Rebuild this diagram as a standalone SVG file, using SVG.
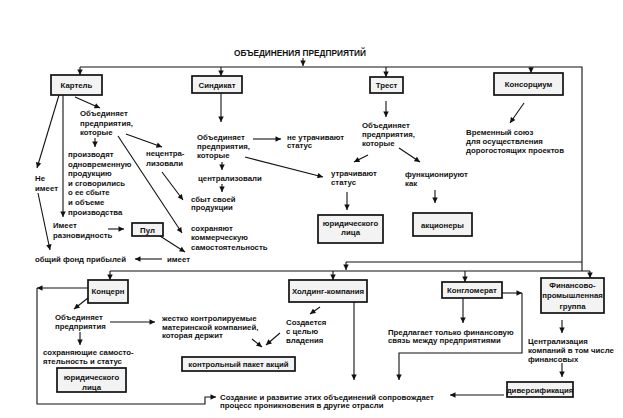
<svg xmlns="http://www.w3.org/2000/svg" width="623" height="418" viewBox="0 0 623 418">
<defs>
<marker id="a" viewBox="0 0 10 10" refX="10" refY="5" markerWidth="6.5" markerHeight="5.5" orient="auto" markerUnits="userSpaceOnUse"><path d="M0,0 L10,5 L0,10 z" fill="#111"/></marker>
</defs>
<style>
text{font-family:"Liberation Sans",Arial,sans-serif;font-size:7.8px;font-weight:bold;fill:#111}
.c{text-anchor:middle}
.t{font-size:8.3px}
rect{fill:#f3f3f3;stroke:#111;stroke-width:1.7}
#conn path{fill:none;stroke:#111;stroke-width:1.1}
#conn .ar{marker-end:url(#a)}
</style>
<rect x="0" y="0" width="623" height="418" style="fill:#fff;stroke:none"/>
<text class="c t" x="300" y="56">ОБЪЕДИНЕНИЯ ПРЕДПРИЯТИЙ</text>

<g id="conn">
<path class="ar" d="M303,58 V66"/>
<path d="M80,67 H582 V271"/>
<path class="ar" d="M80,67 V75"/>
<path class="ar" d="M221,67 V76"/>
<path class="ar" d="M386,67 V77"/>
<path class="ar" d="M531,67 V73"/>
<path class="ar" d="M59,95 L37,168"/>
<path class="ar" d="M63,95 V217"/>
<path class="ar" d="M75,97 L100,108"/>
<path class="ar" d="M95,138 V147"/>
<path class="ar" d="M126,134 L162,147"/>
<path class="ar" d="M118,136 L182,233"/>
<path class="ar" d="M162,172 L183,200"/>
<path class="ar" d="M38,193 L50,250"/>
<path class="ar" d="M108,229 H124"/>
<path class="ar" d="M160,236 L185,252"/>
<path class="ar" d="M162,259 H135"/>
<path class="ar" d="M221,93 V122"/>
<path class="ar" d="M253,139 H281"/>
<path class="ar" d="M222,162 V170"/>
<path class="ar" d="M222,184 V192"/>
<path class="ar" d="M245,157 L323,177"/>
<path class="ar" d="M386,101 V117"/>
<path class="ar" d="M368,155 L354,162"/>
<path class="ar" d="M399,148 L420,162"/>
<path class="ar" d="M435,190 V203"/>
<path class="ar" d="M347,192 V210"/>
<path class="ar" d="M524,103 L510,123"/>
<path d="M346,262 H582"/>
<path class="ar" d="M346,262 V270"/>
<path d="M110,271 H590"/>
<path class="ar" d="M110,271 V280"/>
<path class="ar" d="M333,271 V280"/>
<path class="ar" d="M465,271 V282"/>
<path class="ar" d="M590,271 V278"/>
<path class="ar" d="M88,288 H37"/>
<path class="ar" d="M37,288 V404 H205 V397 H216"/>
<path class="ar" d="M88,298 L74,309"/>
<path class="ar" d="M110,322 H155"/>
<path class="ar" d="M80,332 V345"/>
<path class="ar" d="M320,307 L310,314"/>
<path class="ar" d="M252,339 L262,347"/>
<path class="ar" d="M280,333 L266,345"/>
<path class="ar" d="M354,302 V380"/>
<path class="ar" d="M463,298 V323"/>
<path class="ar" d="M502,293 H522"/>
<path class="ar" d="M522,293 V353 H399 V380"/>
<path class="ar" d="M562,320 V333"/>
<path class="ar" d="M562,363 V377"/>
<path class="ar" d="M504,395 H450"/>
</g>

<g id="kartel"><rect x="51" y="75" width="51" height="20"/><text class="c" x="76.5" y="88">Картель</text></g>
<g id="sindikat"><rect x="192" y="76" width="50" height="17"/><text class="c" x="217" y="87.5">Синдикат</text></g>
<g id="trest"><rect x="370" y="77" width="33" height="16"/><text class="c" x="386.5" y="88">Трест</text></g>
<g id="konsorcium"><rect x="494" y="73" width="69" height="22"/><text class="c" x="528.5" y="87">Консорциум</text></g>
<g id="pul"><rect x="132" y="223" width="31" height="13"/><text class="c" x="147.5" y="232.5">Пул</text></g>
<g id="yur1"><rect x="318" y="215" width="65" height="28"/><text class="c" x="350.5" y="225.5">юридического</text><text class="c" x="350.5" y="235">лица</text></g>
<g id="akcionery"><rect x="413" y="213" width="59" height="23"/><text class="c" x="442.5" y="227.5">акционеры</text></g>
<g id="koncern"><rect x="88" y="280" width="40" height="23"/><text class="c" x="108" y="294">Концерн</text></g>
<g id="holding"><rect x="289" y="280" width="78" height="22"/><text class="c" x="328" y="293.5">Холдинг-компания</text></g>
<g id="konglomerat"><rect x="442" y="282" width="60" height="16"/><text class="c" x="472" y="292.5">Конгломерат</text></g>
<g id="fpg"><rect x="541" y="278" width="63" height="35"/><text class="c" x="572.5" y="288">Финансово-</text><text class="c" x="572.5" y="298">промышленная</text><text class="c" x="572.5" y="309">группа</text></g>
<g id="yur2"><rect x="57" y="368" width="69" height="24"/><text class="c" x="91.5" y="379.5">юридического</text><text class="c" x="91.5" y="389.5">лица</text></g>
<g id="paket"><rect x="182" y="357" width="113" height="14"/><text class="c" x="238.5" y="367">контрольный пакет акций</text></g>
<g id="diversif"><rect x="507" y="382" width="66" height="15"/><text class="c" x="540" y="392.5">диверсификация</text></g>

<g id="labels">
<text x="80" y="116">Объединяет</text><text x="80" y="125.5">предприятия,</text><text x="80" y="135">которые</text>
<text x="68" y="157">производят</text><text x="68" y="166.5">одновременную</text><text x="68" y="176">продукцию</text><text x="68" y="185.5">и сговорились</text><text x="68" y="195">о ее сбыте</text><text x="68" y="204.5">и объеме</text><text x="68" y="214.5">производства</text>
<text x="53" y="227.5">Имеет</text><text x="53" y="237.5">разновидность</text>
<text x="146" y="156">нецентра-</text><text x="146" y="166">лизовали</text>
<text x="35" y="180.5">Не</text><text x="35" y="190.5">имеет</text>
<text x="35" y="261.5">общий фонд прибылей</text>
<text x="167" y="261.5">имеет</text>
<text x="191" y="230.5">сохраняют</text><text x="191" y="240">коммерческую</text><text x="191" y="249.5">самостоятельность</text>
<text x="191" y="201.5">сбыт своей</text><text x="191" y="210">продукции</text>
<text x="197" y="139.5">Объединяет</text><text x="197" y="148.5">предприятия,</text><text x="197" y="157.5">которые</text>
<text x="287" y="139.5">не утрачивают</text><text x="287" y="148">статус</text>
<text x="198" y="181">централизовали</text>
<text x="331" y="175.5">утрачивают</text><text x="331" y="184.5">статус</text>
<text x="362" y="127.5">Объединяет</text><text x="362" y="136.5">предприятия,</text><text x="362" y="145.5">которые</text>
<text x="405" y="177">функционируют</text><text x="405" y="186">как</text>
<text x="466" y="134.5">Временный союз</text><text x="466" y="144">для осуществления</text><text x="466" y="153">дорогостоящих проектов</text>
<text x="55" y="319.5">Объединяет</text><text x="55" y="329">предприятия</text>
<text x="162" y="320.5">жестко контролируемые</text><text x="162" y="329.5">материнской компанией,</text><text x="162" y="338">которая держит</text>
<text x="43" y="354.5">сохраняющие самосто-</text><text x="43" y="363.5">ятельность и статус</text>
<text x="286" y="324.5">Создается</text><text x="286" y="333.5">с целью</text><text x="286" y="342.5">владения</text>
<text x="388" y="334.5">Предлагает только финансовую</text><text x="388" y="343">связь между предприятиями</text>
<text x="528" y="343.5">Централизация</text><text x="528" y="352.5">компаний в том числе</text><text x="528" y="361.5">финансовых</text>
<text x="220" y="399.5">Создание и развитие этих объединений сопровождает</text><text x="220" y="408">процесс проникновения в другие отрасли</text>
</g>
</svg>
